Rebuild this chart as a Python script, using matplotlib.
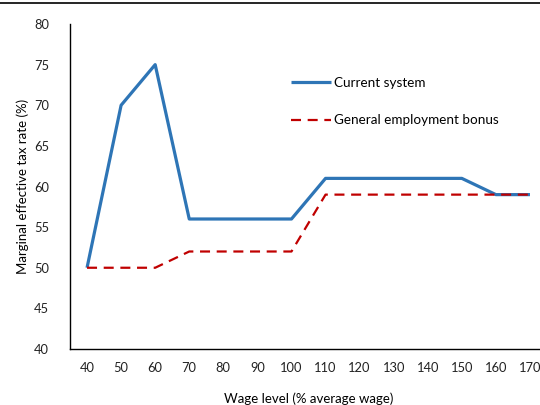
import matplotlib
matplotlib.use('Agg')
import matplotlib.pyplot as plt
from matplotlib.lines import Line2D

plt.rcParams['font.family'] = ['Lato', 'DejaVu Sans']

wage = [40, 50, 60, 70, 80, 90, 100, 110, 120, 130, 140, 150, 160, 170]
current = [50, 70, 75, 56, 56, 56, 56, 61, 61, 61, 61, 61, 59, 59]
bonus = [50, 50, 50, 52, 52, 52, 52, 59, 59, 59, 59, 59, 59, 59]

fig = plt.figure(figsize=(5.4, 4.05), dpi=100)
ax = fig.add_axes([70 / 540, 56 / 405, 477 / 540, 325 / 405])

x = list(range(len(wage)))
ax.plot(x, current, color='#2E75B6', lw=2.3, label='Current system', solid_capstyle='butt')
ax.plot(x, bonus, color='#C00000', lw=1.6, dashes=(4.5, 3), label='General employment bonus')

ax.set_xlim(-0.5, len(wage) - 0.5)
ax.set_ylim(40, 80)
ax.set_yticks(range(40, 81, 5))
ax.set_xticks(x)
ax.set_xticklabels([str(w) for w in wage])
ax.tick_params(axis='both', length=0, labelsize=9.3, colors='#222222', pad=9)
ax.tick_params(axis='y', pad=15)
for s in ['top', 'right']:
    ax.spines[s].set_visible(False)
for s in ['left', 'bottom']:
    ax.spines[s].set_linewidth(1.0)

ax.set_xlabel('Wage level (% average wage)', fontsize=9.5, labelpad=14)
ax.set_ylabel('Marginal effective tax rate (%)', fontsize=9.5, labelpad=4)

ax.legend(loc='upper left', bbox_to_anchor=(0.437, 0.875), frameon=False, fontsize=9.7,
          handlelength=3.0, handletextpad=0.2, labelspacing=1.9)

fig.add_artist(Line2D([0, 1], [1 - 3 / 405, 1 - 3 / 405], color='black', lw=1.2,
                      transform=fig.transFigure))

fig.savefig('out.png', dpi=100)
